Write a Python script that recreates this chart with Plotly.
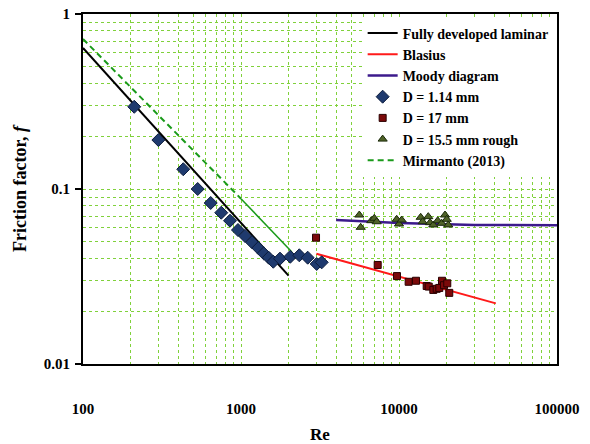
import plotly.graph_objects as go

# ---- data ----
lam_re = [100, 2000]
lam_f = [0.64, 0.032]

blas_re = [3000, 41000]
blas_f = [0.0427, 0.0222]

moody_re = [4000, 6000, 10000, 20000, 30000, 100000]
moody_f = [0.0664, 0.0652, 0.0640, 0.0628, 0.0623, 0.0621]

mir_dash_re = [100, 1000]
mir_dash_f = [0.72, 0.088]
mir_solid_re = [1000, 2100]
mir_solid_f = [0.088, 0.0436]

d114_re = [211, 300, 431, 532, 643, 750, 852, 957, 1060, 1174, 1287, 1392, 1497, 1601,
           1765, 2051, 2339, 2643, 3013, 3242]
d114_f = [0.295, 0.1905, 0.1297, 0.100, 0.0832, 0.0732, 0.0659, 0.0583, 0.0539, 0.0496,
          0.046, 0.0429, 0.0405, 0.0384, 0.040, 0.041, 0.0418, 0.0405, 0.0373, 0.0381]

d17_re = [2984, 7330, 9710, 11510, 12810, 14970, 15420, 16490, 17320, 17990, 18710,
          19270, 20210, 20800]
d17_f = [0.0527, 0.0368, 0.0318, 0.0295, 0.0299, 0.0279, 0.0277, 0.0265, 0.0269,
         0.0272, 0.0299, 0.0282, 0.0289, 0.0255]

d155_re = [5607, 5723, 6678, 6977, 7225, 9670, 10000, 10400, 13720, 14120, 15320, 15710,
           16490, 17580, 18630, 19550, 20040, 20510]
d155_f = [0.0710, 0.0604, 0.0659, 0.068, 0.065, 0.0671, 0.0631, 0.0665, 0.0689, 0.065,
          0.0695, 0.0642, 0.0623, 0.0659, 0.0637, 0.071, 0.0671, 0.0623]

x_major = [100, 1000, 10000, 100000]
x_major_text = ["100", "1000", "10000", "100000"]
y_major = [0.01, 0.1, 1]
y_major_text = ["0.01", "0.1", "1"]

x_minor = [m * d for d in (100, 1000, 10000) for m in range(2, 10)]
y_minor = [m * d for d in (0.01, 0.1) for m in range(2, 10)]

GRID = "#80d13b"
DASH = "3px,3px"
FONT = "Liberation Serif"

fig = go.Figure()

fig.add_trace(go.Scatter(x=lam_re, y=lam_f, mode="lines", name="Fully developed laminar",
                         line=dict(color="black", width=2), legendrank=1))
fig.add_trace(go.Scatter(x=blas_re, y=blas_f, mode="lines", name="Blasius",
                         line=dict(color="#ff1a1a", width=2), legendrank=2))
fig.add_trace(go.Scatter(x=moody_re, y=moody_f, mode="lines", name="Moody diagram",
                         line=dict(color="#3c1a8c", width=2.5), legendrank=3))
fig.add_trace(go.Scatter(x=mir_dash_re, y=mir_dash_f, mode="lines", name="Mirmanto (2013)",
                         line=dict(color="#1a9a1a", width=2, dash="6px,4px"), legendrank=7))
fig.add_trace(go.Scatter(x=mir_solid_re, y=mir_solid_f, mode="lines", showlegend=False,
                         line=dict(color="#1a9a1a", width=1.5)))
fig.add_trace(go.Scatter(x=d114_re, y=d114_f, mode="markers", name="D = 1.14 mm",
                         marker=dict(symbol="diamond", size=10, color="#1f3a6e",
                                     line=dict(color="#0d1d3d", width=1)), legendrank=4))
fig.add_trace(go.Scatter(x=d17_re, y=d17_f, mode="markers", name="D = 17 mm",
                         marker=dict(symbol="square", size=7, color="#7b0a0a",
                                     line=dict(color="#2a0000", width=1)), legendrank=5))
fig.add_trace(go.Scatter(x=d155_re, y=d155_f, mode="markers", name="D = 15.5 mm rough",
                         marker=dict(symbol="triangle-up", size=8, color="#4f6228",
                                     line=dict(color="#1b2a0a", width=1)), legendrank=6))

fig.update_layout(
    width=590, height=444,
    margin=dict(l=83, r=33, t=14, b=80),
    paper_bgcolor="white", plot_bgcolor="white",
    font=dict(family=FONT, size=14, color="black"),
    showlegend=True,
    legend=dict(x=0.59, y=0.99, xanchor="left", yanchor="top",
                bgcolor="white", borderwidth=0, tracegroupgap=0,
                font=dict(family=FONT, size=14, color="black", weight="bold"),
                itemwidth=30),
)

fig.update_xaxes(
    type="log", range=[2, 5], automargin=False,
    tickmode="array", tickvals=x_major, ticktext=x_major_text,
    tickfont=dict(family=FONT, size=15, weight="bold"),
    ticks="", ticklabelstandoff=30,
    showgrid=True, gridcolor=GRID, griddash=DASH, gridwidth=1,
    minor=dict(tickvals=x_minor, showgrid=True, gridcolor=GRID, griddash=DASH,
               gridwidth=1, ticks=""),
    showline=True, linecolor="black", linewidth=2, mirror=True,
    zeroline=False,
    title=dict(text="<b>Re</b>", font=dict(family=FONT, size=17), standoff=12),
)
fig.update_yaxes(
    type="log", range=[-2, 0], automargin=False,
    tickmode="array", tickvals=y_major, ticktext=y_major_text,
    tickfont=dict(family=FONT, size=15, weight="bold"),
    ticks="outside", ticklen=6, tickwidth=2, tickcolor="black", ticklabelstandoff=2,
    showgrid=True, gridcolor=GRID, griddash=DASH, gridwidth=1,
    minor=dict(tickvals=y_minor, showgrid=True, gridcolor=GRID, griddash=DASH,
               gridwidth=1, ticks=""),
    showline=True, linecolor="black", linewidth=2, mirror=True,
    zeroline=False,
    title=dict(text="<b>Friction factor, <i>f</i></b>", font=dict(family=FONT, size=18),
               standoff=12),
)

fig.write_html("out.html", config={"displayModeBar": False},
               post_script="document.body.style.margin='0';")
